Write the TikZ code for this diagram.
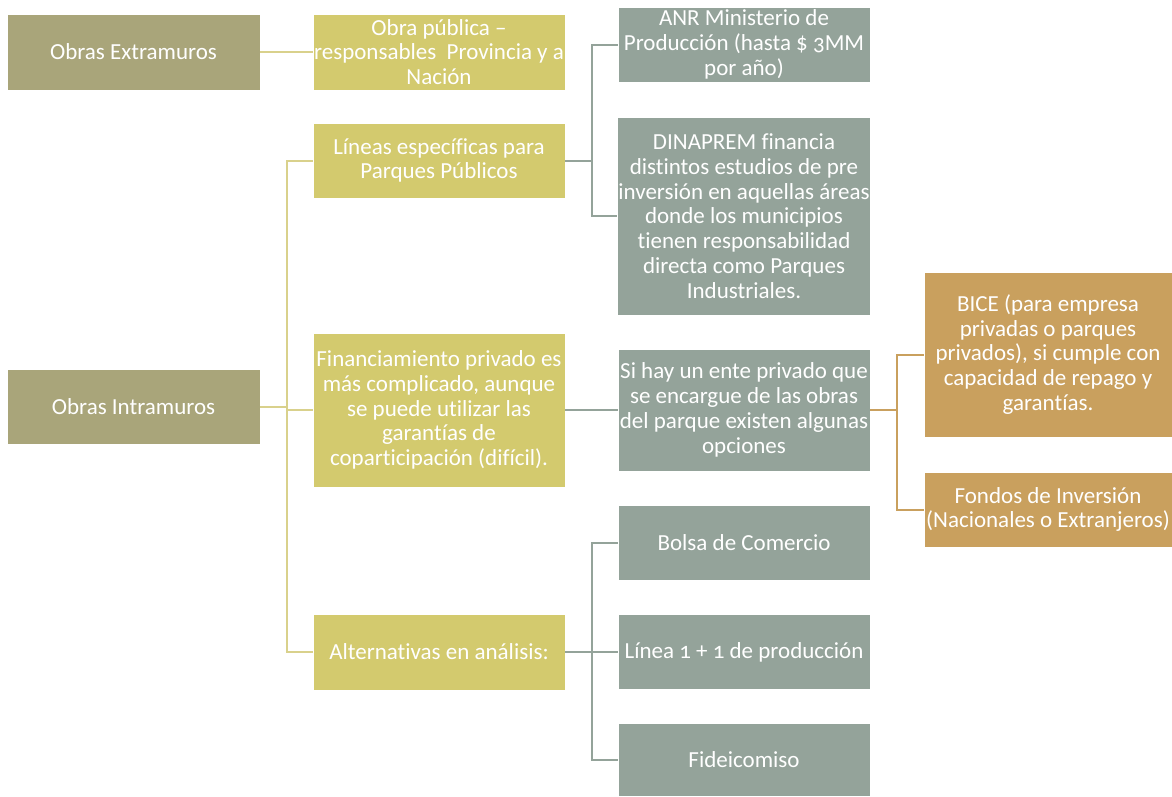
\documentclass[tikz,border=0pt]{standalone}
\usepackage{fontspec}
\setmainfont{Carlito}[Numbers=OldStyle, Ligatures=NoCommon]
\definecolor{cext}{HTML}{A9A57A}
\definecolor{cylw}{HTML}{D3CA6E}
\definecolor{cgry}{HTML}{94A39A}
\definecolor{ctan}{HTML}{C9A05E}
\definecolor{lylw}{HTML}{D9D18C}
\tikzset{
  box/.style={draw=white, line width=0.8pt, inner sep=1pt, align=center, text=white,
    font=\fontsize{23}{24.8}\selectfont},
  ext/.style={box, fill=cext},
  ylw/.style={box, fill=cylw},
  gry/.style={box, fill=cgry},
  tan/.style={box, fill=ctan},
  cy/.style={draw=lylw, line width=2pt},
  cg/.style={draw=cgry, line width=2pt},
  ct/.style={draw=ctan, line width=2pt},
}
\begin{document}
\begin{tikzpicture}[x=1pt,y=-1pt]
\useasboundingbox (0,0) rectangle (1172,796);
% column 1
\node[ext, minimum width=253pt, minimum height=76pt] (ext) at (133.5,52) {Obras Extramuros};
\node[ext, minimum width=253pt, minimum height=75pt] (intra) at (133.5,406.5) {Obras Intramuros};
% column 2
\node[ylw, minimum width=252pt, minimum height=76pt] (obra) at (439,52) {Obra pública –\\responsables \ Provincia y a\\Nación};
\node[ylw, minimum width=252pt, minimum height=75pt] (lineas) at (439,160.5) {Líneas específicas para\\Parques Públicos};
\node[ylw, minimum width=252pt, minimum height=154pt] (finan) at (439,410) {Financiamiento privado es\\más complicado, aunque\\se puede utilizar las\\garantías de\\coparticipación (difícil).};
\node[ylw, minimum width=252pt, minimum height=76pt] (alt) at (439,652) {Alternativas en análisis:};
% column 3
\node[gry, minimum width=252pt, minimum height=75pt] (anr) at (744,44.5) {ANR Ministerio de\\Producción (hasta \$ 3MM\\por año)};
\node[gry, minimum width=252pt, minimum height=198pt] (dina) at (744,216) {DINAPREM financia\\distintos estudios de pre\\inversión en aquellas áreas\\donde los municipios\\tienen responsabilidad\\directa como Parques\\Industriales.};
\node[gry, minimum width=252pt, minimum height=122pt] (sihay) at (744,410) {Si hay un ente privado que\\se encargue de las obras\\del parque existen algunas\\opciones};
\node[gry, minimum width=252pt, minimum height=75pt] (bolsa) at (744,542.5) {Bolsa de Comercio};
\node[gry, minimum width=252pt, minimum height=75pt] (linea) at (744,652) {Línea 1 + 1 de producción};
\node[gry, minimum width=252pt, minimum height=73pt] (fide) at (744,760) {Fideicomiso};
% column 4
\node[tan, minimum width=248pt, minimum height=165pt] (bice) at (1048,354.5) {BICE (para empresa\\privadas o parques\\privados), si cumple con\\capacidad de repago y\\garantías.};
\node[tan, minimum width=248pt, minimum height=75pt] (fondos) at (1048,509.5) {Fondos de Inversión\\(Nacionales o Extranjeros)};
% connectors
\draw[cy] (ext.east) -- (obra.west);
\draw[cy] (intra.east) -- ++(27,0);
\draw[cy] (lineas.west) -- ++(-26,0) |- (alt.west);
\draw[cy] (finan.west) -- ++(-26,0);
\draw[cg] (lineas.east) -- ++(27,0);
\draw[cg] (anr.west) -- ++(-26,0) |- (dina.west);
\draw[cg] (finan.east) -- (sihay.west);
\draw[cg] (alt.east) -- (linea.west);
\draw[cg] (bolsa.west) -- ++(-26,0) |- (fide.west);
\draw[ct] (sihay.east) -- ++(27,0);
\draw[ct] (bice.west) -- ++(-27,0) |- (fondos.west);
\end{tikzpicture}
\end{document}
